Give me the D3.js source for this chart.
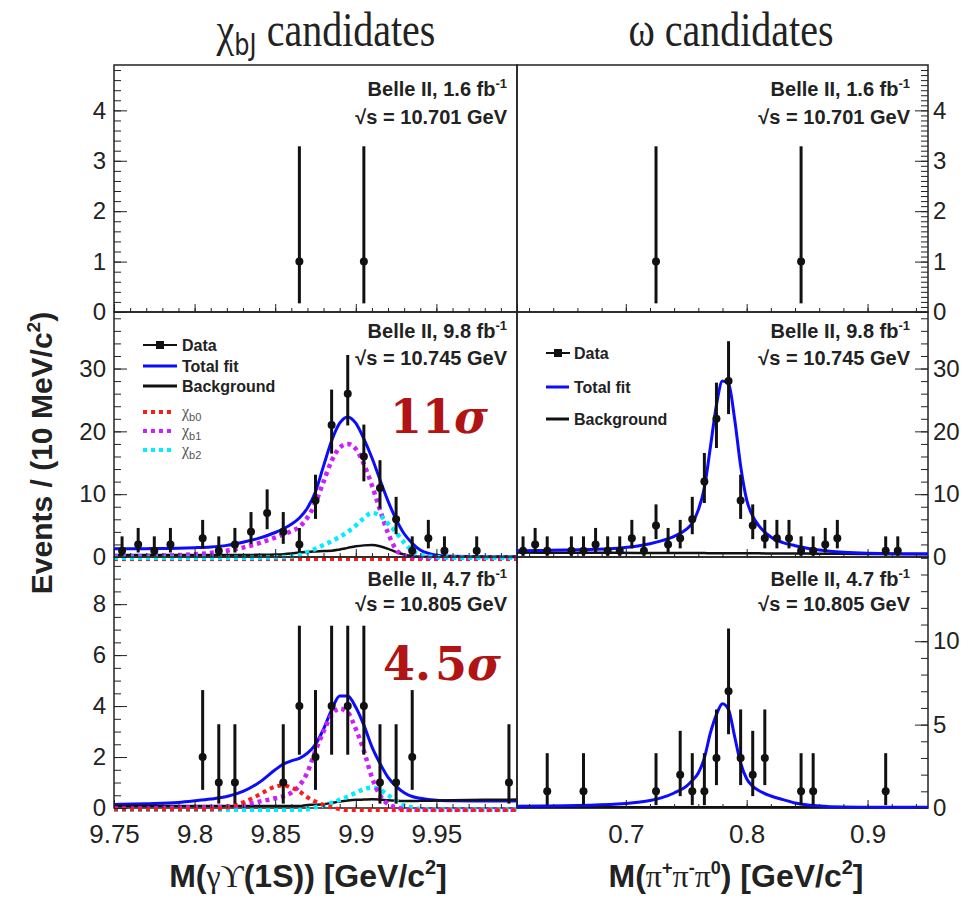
<!DOCTYPE html>
<html>
<head>
<meta charset="utf-8">
<title>chi_bJ and omega candidates</title>
<script src="https://d3js.org/d3.v7.min.js"></script>
<style>
  body { margin: 0; background: #fff; }
  .tick text { font-family: "Liberation Sans", Arial, sans-serif; fill: #222; }
  .note { font-family: "Liberation Sans", Arial, sans-serif; font-weight: bold; fill: #222; }
</style>
</head>
<body>
<div id="chart"></div>
<script>
// ---------------- data ----------------
// chi_bJ candidates: bin centres of M(gamma Upsilon(1S)) [GeV/c^2] and event counts
var chiTopMass = [9.865, 9.905];
var chiTopCounts = [1, 1];
var chiMidMass = [9.755, 9.765, 9.775, 9.785, 9.805, 9.815, 9.825, 9.835, 9.845, 9.855, 9.865,
                  9.875, 9.885, 9.895, 9.905, 9.915, 9.925, 9.935, 9.945, 9.955, 9.975];
var chiMidCounts = [1, 2, 1, 2, 3, 1, 2, 4, 7, 4, 2, 9, 21, 26, 16, 11, 6, 1, 3, 1, 1];
var chiBotMass = [9.805, 9.815, 9.825, 9.855, 9.865, 9.875, 9.885, 9.895, 9.905, 9.915, 9.925, 9.935, 9.995];
var chiBotCounts = [2, 1, 1, 1, 4, 2, 4, 4, 4, 1, 1, 2, 1];

// omega candidates: bin centres of M(pi+ pi- pi0) [GeV/c^2] and event counts
var omegaTopMass = [0.725, 0.845];
var omegaTopCounts = [1, 1];
var omegaMidMass = [0.615, 0.625, 0.635, 0.655, 0.665, 0.675, 0.685, 0.695, 0.705, 0.715, 0.725, 0.735,
                    0.745, 0.755, 0.765, 0.775, 0.785, 0.795, 0.805, 0.815, 0.825, 0.835, 0.845, 0.855,
                    0.865, 0.875, 0.915, 0.925];
var omegaMidCounts = [1, 2, 1, 1, 1, 2, 1, 1, 3, 1, 5, 2, 3, 6, 12, 22, 28, 9, 5, 3, 3, 3, 1, 1, 2, 3, 1, 1];
var omegaBotMass = [0.635, 0.665, 0.725, 0.745, 0.755, 0.765, 0.775, 0.785, 0.795, 0.805, 0.815, 0.845, 0.855, 0.915];
var omegaBotCounts = [1, 1, 1, 2, 1, 1, 3, 7, 3, 2, 3, 1, 1, 1];

var chiFitMass = [9.75, 9.77, 9.79, 9.80, 9.81, 9.82, 9.83, 9.84, 9.85, 9.855, 9.86, 9.865, 9.87, 9.875, 9.88,
                  9.885, 9.89, 9.895, 9.90, 9.905, 9.91, 9.915, 9.92, 9.925, 9.93, 9.935, 9.94, 9.95, 9.96, 9.98, 10.0];
var chiMidTotal = [1.3, 1.33, 1.4, 1.48, 1.6, 1.85, 2.35, 3.0, 3.9, 4.5, 5.2, 6.2, 7.8, 10.4, 14.5,
                   18.5, 21.3, 22.3, 21.3, 18.8, 15.8, 12.3, 8.9, 6.0, 3.7, 2.2, 1.1, 0.3, 0.1, 0.05, 0.05];
var chiMidBkg = [0.3, 0.3, 0.3, 0.3, 0.3, 0.3, 0.32, 0.35, 0.4, 0.45, 0.55, 0.7, 0.8, 0.88, 0.95,
                 1.0, 1.2, 1.45, 1.7, 1.85, 1.9, 1.7, 1.3, 0.8, 0.4, 0.15, 0.05, 0.02, 0.02, 0.02, 0.02];
var chiMidB0 = [-0.4, -0.4, -0.4, -0.4, -0.4, -0.4, -0.4, -0.4, -0.4, -0.4, -0.4, -0.4, -0.4, -0.4, -0.4, -0.4,
                -0.4, -0.4, -0.4, -0.4, -0.4, -0.4, -0.4, -0.4, -0.4, -0.4, -0.4, -0.4, -0.4, -0.4, -0.4];
var chiMidB1 = [0.1, 0.15, 0.3, 0.45, 0.65, 1.0, 1.5, 2.2, 3.1, 3.6, 4.1, 4.8, 6.3, 8.6, 12.0,
                15.3, 17.4, 18.0, 17.2, 14.8, 11.4, 7.5, 3.8, 1.2, 0.2, 0.0, -0.1, -0.1, -0.1, -0.1, -0.1];
var chiMidB2 = [-0.1, -0.1, -0.1, -0.1, -0.1, -0.1, -0.1, -0.1, -0.05, 0, 0.05, 0.3, 0.8, 1.3, 1.9,
                2.5, 3.2, 4.0, 5.0, 6.2, 7.0, 6.6, 5.3, 3.9, 2.3, 1.0, 0.3, 0, -0.1, -0.1, -0.1];
var chiBotTotal = [0.14, 0.17, 0.22, 0.28, 0.35, 0.45, 0.65, 1.0, 1.5, 1.72, 1.85, 1.95, 2.15, 2.5, 3.1,
                   3.85, 4.4, 4.4, 3.95, 3.25, 2.4, 1.75, 1.2, 0.85, 0.6, 0.45, 0.38, 0.3, 0.28, 0.27, 0.27];
var chiBotBkg = [0.08, 0.08, 0.08, 0.08, 0.08, 0.08, 0.08, 0.08, 0.08, 0.08, 0.08, 0.08, 0.12, 0.13, 0.15,
                 0.2, 0.25, 0.29, 0.32, 0.33, 0.34, 0.33, 0.3, 0.28, 0.27, 0.27, 0.28, 0.29, 0.3, 0.32, 0.33];
var chiBotB0 = [-0.05, -0.05, -0.05, -0.05, -0.05, 0.02, 0.22, 0.52, 0.84, 0.89, 0.8, 0.65, 0.42, 0.25, 0.12,
                0.03, -0.05, -0.1, -0.1, -0.1, -0.1, -0.1, -0.1, -0.1, -0.1, -0.1, -0.1, -0.1, -0.1, -0.1, -0.1];
var chiBotB1 = [-0.02, -0.02, 0.01, 0.02, 0.03, 0.05, 0.12, 0.25, 0.38, 0.46, 0.6, 0.88, 1.4, 2.25, 3.0,
                3.65, 3.9, 3.75, 3.1, 2.25, 1.2, 0.5, 0.15, 0.03, -0.05, -0.08, -0.08, -0.08, -0.08, -0.08, -0.08];
var chiBotB2 = [-0.1, -0.1, -0.1, -0.1, -0.1, -0.1, -0.1, -0.1, -0.1, -0.1, -0.1, -0.08, -0.05, 0.03, 0.1,
                0.2, 0.32, 0.45, 0.6, 0.74, 0.8, 0.72, 0.5, 0.28, 0.1, 0.02, -0.04, -0.06, -0.06, -0.06, -0.06];

var omegaFitMass = [0.61, 0.63, 0.65, 0.67, 0.69, 0.71, 0.72, 0.73, 0.74, 0.75, 0.755, 0.76, 0.765, 0.77, 0.775,
                    0.78, 0.785, 0.79, 0.795, 0.80, 0.805, 0.81, 0.82, 0.83, 0.84, 0.86, 0.88, 0.90, 0.95];
var omegaMidTotal = [1.0, 1.05, 1.1, 1.2, 1.35, 1.75, 2.1, 2.6, 3.3, 4.4, 5.4, 7.5, 11.0, 17.5, 24.2,
                     28.0, 27.6, 22.0, 14.5, 9.1, 6.5, 5.0, 3.2, 2.3, 1.8, 1.1, 0.75, 0.6, 0.5];
var omegaMidBkg = [0.7, 0.69, 0.68, 0.67, 0.66, 0.65, 0.64, 0.64, 0.63, 0.63, 0.62, 0.62, 0.62, 0.61, 0.61,
                   0.6, 0.6, 0.6, 0.59, 0.59, 0.58, 0.58, 0.57, 0.56, 0.55, 0.53, 0.51, 0.49, 0.45];
var omegaBotTotal = [0.1, 0.12, 0.14, 0.17, 0.22, 0.35, 0.45, 0.62, 0.9, 1.3, 1.65, 2.1, 3.0, 4.5, 5.6,
                     6.25, 5.9, 4.3, 2.7, 1.75, 1.3, 1.05, 0.72, 0.5, 0.3, 0.12, 0.06, 0.05, 0.04];
var omegaBotBkg = [0.05, 0.05, 0.05, 0.05, 0.05, 0.05, 0.05, 0.05, 0.05, 0.05, 0.05, 0.05, 0.05, 0.05, 0.05,
                   0.05, 0.05, 0.05, 0.05, 0.05, 0.05, 0.05, 0.05, 0.05, 0.05, 0.05, 0.05, 0.05, 0.05];

// axis ticks
var chiMassTicks = [9.75, 9.8, 9.85, 9.9, 9.95, 10.0];
var omegaMassTicks = [0.7, 0.8, 0.9];
var topCountTicks = [0, 1, 2, 3, 4];
var midCountTicks = [0, 10, 20, 30];
var chiBotCountTicks = [0, 2, 4, 6, 8];
var omegaBotCountTicks = [0, 5, 10];

// run labels
var lumis = ["1.6", "9.8", "4.7"];
var energies = ["10.701", "10.745", "10.805"];

// ---------------- layout ----------------
var W = 971, H = 900;
var colL = [114, 517], colR = [517, 928];
var rows = [[65, 312], [312, 557], [557, 808]];

var svg = d3.select("#chart").append("svg")
    .attr("width", W)
    .attr("height", H)
    .style("font-family", "'Liberation Sans', Arial, sans-serif");

var xChi = d3.scaleLinear().domain([9.75, 10.0]).range(colL);
var xOmega = d3.scaleLinear().domain([0.61, 0.95]).range(colR);

var yScales = [
  [d3.scaleLinear().domain([0, 4.9]).range([rows[0][1], rows[0][0]]),
   d3.scaleLinear().domain([0, 4.9]).range([rows[0][1], rows[0][0]])],
  [d3.scaleLinear().domain([0, 39]).range([rows[1][1], rows[1][0]]),
   d3.scaleLinear().domain([0, 39]).range([rows[1][1], rows[1][0]])],
  [d3.scaleLinear().domain([0, 9.85]).range([rows[2][1], rows[2][0]]),
   d3.scaleLinear().domain([0, 15.05]).range([rows[2][1], rows[2][0]])]
];
var yTicks = [[topCountTicks, topCountTicks], [midCountTicks, midCountTicks], [chiBotCountTicks, omegaBotCountTicks]];
var yMinorStep = [[0.2, 0.1], [2, 2], [0.5, 1]];

// poisson (68%) interval, Wilson-Hilferty approximation as ROOT draws it
function poisLow(n) { return n * Math.pow(1 - 1 / (9 * n) - 1 / (3 * Math.sqrt(n)), 3); }
function poisHigh(n) { var m = n + 1; return m * Math.pow(1 - 1 / (9 * m) + 1 / (3 * Math.sqrt(m)), 3); }

var defs = svg.append("defs");

function drawCurve(g, x, y, mass, vals, color, width, dash) {
  var line = d3.line()
    .x(function(d, i) { return x(mass[i]); })
    .y(function(d) { return y(d); })
    .curve(d3.curveMonotoneX);
  g.append("path")
    .attr("d", line(vals))
    .attr("fill", "none")
    .attr("stroke", color)
    .attr("stroke-width", width)
    .attr("stroke-dasharray", dash || null);
}

function drawPoints(g, x, y, mass, counts) {
  var pts = g.append("g").selectAll("g").data(counts).enter().append("g");
  pts.append("line")
    .attr("x1", function(d, i) { return x(mass[i]); })
    .attr("x2", function(d, i) { return x(mass[i]); })
    .attr("y1", function(d) { return y(poisLow(d)); })
    .attr("y2", function(d) { return y(poisHigh(d)); })
    .attr("stroke", "#111")
    .attr("stroke-width", 3);
  pts.append("circle")
    .attr("cx", function(d, i) { return x(mass[i]); })
    .attr("cy", function(d) { return y(d); })
    .attr("r", 4)
    .attr("fill", "#111");
}

function makePanel(row, col) {
  var x = col === 0 ? xChi : xOmega;
  var y = yScales[row][col];
  var xr = col === 0 ? colL : colR;
  var id = "clip" + row + col;
  defs.append("clipPath").attr("id", id).append("rect")
    .attr("x", xr[0]).attr("y", rows[row][0] - 2)
    .attr("width", xr[1] - xr[0]).attr("height", rows[row][1] - rows[row][0] + 6);
  var g = svg.append("g");
  // frame first, marks go on top of it
  g.append("rect")
    .attr("x", xr[0]).attr("y", rows[row][0])
    .attr("width", xr[1] - xr[0]).attr("height", rows[row][1] - rows[row][0])
    .attr("fill", "none").attr("stroke", "#222").attr("stroke-width", 1.5);
  var plot = g.append("g").attr("clip-path", "url(#" + id + ")");
  return {g: g, plot: plot, x: x, y: y, xr: xr};
}

var colors = {total: "#0b0bff", bkg: "#111", b0: "#ff1a1a", b1: "#cc1eff", b2: "#00eeff"};
var dots = "4 4";

// ---------------- panels ----------------
var panels = [];
for (var r = 0; r < 3; r++) {
  panels.push([makePanel(r, 0), makePanel(r, 1)]);
}

// chi_bJ fits
var p = panels[1][0];
drawCurve(p.plot, p.x, p.y, chiFitMass, chiMidTotal, colors.total, 3);
drawCurve(p.plot, p.x, p.y, chiFitMass, chiMidBkg, colors.bkg, 2.5);
drawCurve(p.plot, p.x, p.y, chiFitMass, chiMidB0, colors.b0, 4, dots);
drawCurve(p.plot, p.x, p.y, chiFitMass, chiMidB1, colors.b1, 4.5, dots);
drawCurve(p.plot, p.x, p.y, chiFitMass, chiMidB2, colors.b2, 4.5, dots);
p = panels[2][0];
drawCurve(p.plot, p.x, p.y, chiFitMass, chiBotTotal, colors.total, 3);
drawCurve(p.plot, p.x, p.y, chiFitMass, chiBotBkg, colors.bkg, 2.5);
drawCurve(p.plot, p.x, p.y, chiFitMass, chiBotB2, colors.b2, 4.5, dots);
drawCurve(p.plot, p.x, p.y, chiFitMass, chiBotB1, colors.b1, 4.5, dots);
drawCurve(p.plot, p.x, p.y, chiFitMass, chiBotB0, colors.b0, 4, dots);

// omega fits
p = panels[1][1];
drawCurve(p.plot, p.x, p.y, omegaFitMass, omegaMidBkg, colors.bkg, 2.5);
drawCurve(p.plot, p.x, p.y, omegaFitMass, omegaMidTotal, colors.total, 3);
p = panels[2][1];
drawCurve(p.plot, p.x, p.y, omegaFitMass, omegaBotBkg, colors.bkg, 2.5);
drawCurve(p.plot, p.x, p.y, omegaFitMass, omegaBotTotal, colors.total, 3);

// data points
var massSets = [[chiTopMass, omegaTopMass], [chiMidMass, omegaMidMass], [chiBotMass, omegaBotMass]];
var countSets = [[chiTopCounts, omegaTopCounts], [chiMidCounts, omegaMidCounts], [chiBotCounts, omegaBotCounts]];
for (var r = 0; r < 3; r++) {
  for (var c = 0; c < 2; c++) {
    p = panels[r][c];
    drawPoints(p.plot, p.x, p.y, massSets[r][c], countSets[r][c]);
  }
}

// ---------------- axes ----------------
function clean(sel) { sel.select(".domain").remove(); }

for (var r = 0; r < 3; r++) {
  for (var c = 0; c < 2; c++) {
    p = panels[r][c];
    var y = p.y;
    var ymax = y.domain()[1];
    var step = yMinorStep[r][c];
    var minors = d3.range(0, ymax, step);
    var yx = c === 0 ? p.xr[0] : p.xr[1];
    var axMinor = c === 0 ? d3.axisLeft(y) : d3.axisRight(y);
    var axMajor = c === 0 ? d3.axisLeft(y) : d3.axisRight(y);
    p.g.append("g").attr("transform", "translate(" + yx + ",0)")
      .call(axMinor.tickValues(minors).tickSize(-7).tickFormat(""))
      .call(clean)
      .selectAll("line").attr("stroke", "#222");
    var gm = p.g.append("g").attr("transform", "translate(" + yx + ",0)")
      .call(axMajor.tickValues(yTicks[r][c]).tickSize(-13).tickPadding(c === 0 ? 8 : 5).tickFormat(d3.format("d")))
      .call(clean);
    gm.selectAll("line").attr("stroke", "#222");
    gm.selectAll("text").style("font-size", "24px");

    // bottom mass axis of each panel, ticks pointing in
    var x = p.x;
    var xMinors = c === 0 ? d3.range(9.76, 10.0, 0.01) : d3.range(0.62, 0.95, 0.02);
    var xMajors = c === 0 ? chiMassTicks : omegaMassTicks;
    var yb = rows[r][1];
    p.g.append("g").attr("transform", "translate(0," + yb + ")")
      .call(d3.axisBottom(x).tickValues(xMinors).tickSize(-4).tickFormat(""))
      .call(clean)
      .selectAll("line").attr("stroke", "#222");
    var gx = p.g.append("g").attr("transform", "translate(0," + yb + ")")
      .call(d3.axisBottom(x).tickValues(xMajors).tickSize(-8).tickPadding(17)
        .tickFormat(function(d) { return d >= 10 ? "" : d3.format("")(d); }))
      .call(clean);
    gx.selectAll("line").attr("stroke", "#222");
    gx.selectAll("text").style("font-size", "26px");
    if (r < 2) gx.selectAll("text").remove();

    // Belle II run labels
    var tx = c === 0 ? 507 : 910;
    var base = [[96, 124], [338, 365], [586, 611]][r];
    var t1 = p.g.append("text").attr("class", "note").attr("x", tx).attr("y", base[0])
      .attr("text-anchor", "end").style("font-size", "20px");
    t1.append("tspan").text("Belle II, " + lumis[r] + " fb");
    t1.append("tspan").attr("dy", -8).style("font-size", "13px").text("-1");
    p.g.append("text").attr("class", "note").attr("x", tx).attr("y", base[1])
      .attr("text-anchor", "end").style("font-size", "20px")
      .text("\u221As = " + energies[r] + " GeV");
  }
}

// ---------------- legends ----------------
function legendData(g, x0, x1, y) {
  g.append("line").attr("x1", x0).attr("x2", x1).attr("y1", y).attr("y2", y)
    .attr("stroke", "#111").attr("stroke-width", 2);
  g.append("rect").attr("x", (x0 + x1) / 2 - 4).attr("y", y - 4).attr("width", 8).attr("height", 8).attr("fill", "#111");
}
function legendLine(g, x0, x1, y, color, width, dash) {
  g.append("line").attr("x1", x0).attr("x2", x1).attr("y1", y).attr("y2", y)
    .attr("stroke", color).attr("stroke-width", width).attr("stroke-dasharray", dash || null);
}
function legendText(g, x, y, label) {
  g.append("text").attr("class", "note").attr("x", x).attr("y", y + 6).style("font-size", "16px").text(label);
}
function legendChi(g, x, y, sub) {
  var t = g.append("text").attr("x", x).attr("y", y + 5)
    .style("font-family", "'Liberation Serif', 'Times New Roman', serif").style("font-size", "16px").attr("fill", "#555");
  t.append("tspan").text("\u03C7");
  t.append("tspan").attr("dy", 4).style("font-family", "'Liberation Sans', Arial, sans-serif").style("font-size", "11px").text(sub);
}

var lg = svg.append("g");
legendData(lg, 143, 177, 345); legendText(lg, 182, 345, "Data");
legendLine(lg, 143, 177, 366, colors.total, 3); legendText(lg, 182, 366, "Total fit");
legendLine(lg, 143, 177, 386, colors.bkg, 3); legendText(lg, 182, 386, "Background");
legendLine(lg, 143, 175, 412, colors.b0, 4, dots); legendChi(lg, 182, 412, "b0");
legendLine(lg, 143, 175, 431, colors.b1, 4, dots); legendChi(lg, 182, 431, "b1");
legendLine(lg, 143, 175, 450, colors.b2, 4, dots); legendChi(lg, 182, 450, "b2");

legendData(lg, 546, 570, 353); legendText(lg, 574, 353, "Data");
legendLine(lg, 546, 569, 387, colors.total, 3); legendText(lg, 574, 387, "Total fit");
legendLine(lg, 546, 569, 419, colors.bkg, 3); legendText(lg, 574, 419, "Background");

// ---------------- significances ----------------
function sigma(x, y, whole, rest) {
  var t = svg.append("text").attr("x", x).attr("y", y)
    .style("font-family", "'DejaVu Serif', serif").style("font-weight", "bold")
    .style("font-size", "46px").attr("fill", "#b01414");
  t.append("tspan").text(whole);
  if (rest) t.append("tspan").attr("dx", 4).text(rest);
  t.append("tspan").style("font-style", "italic").text("\u03C3");
}
sigma(390, 433, "11", "");
sigma(383, 680, "4.", "5");

// ---------------- titles ----------------
var serif = "'Liberation Serif', 'Times New Roman', serif";
var t = svg.append("text").attr("transform", "translate(326,46) scale(1,1.22)").attr("text-anchor", "middle")
  .style("font-family", serif).style("font-size", "40px").attr("fill", "#222");
t.append("tspan").text("\u03C7");
t.append("tspan").attr("dy", 7).style("font-family", "'DejaVu Sans', sans-serif").style("font-size", "24px").text("bJ");
t.append("tspan").attr("dy", -7).text(" candidates");

svg.append("text").attr("transform", "translate(731,46) scale(1,1.22)").attr("text-anchor", "middle")
  .style("font-family", serif).style("font-size", "40px").attr("fill", "#222")
  .text("\u03C9 candidates");

// x axis titles
var xt = svg.append("text").attr("class", "note").attr("x", 308).attr("y", 887)
  .attr("text-anchor", "middle").style("font-size", "32px");
xt.append("tspan").text("M(");
xt.append("tspan").style("font-family", serif).style("font-weight", "normal").text("\u03B3\u03D2");
xt.append("tspan").text("(1S)) [GeV/c");
xt.append("tspan").attr("dy", -13).style("font-size", "20px").text("2");
xt.append("tspan").attr("dy", 13).text("]");

var xt2 = svg.append("text").attr("class", "note").attr("x", 736).attr("y", 887)
  .attr("text-anchor", "middle").style("font-size", "32px");
xt2.append("tspan").text("M(");
xt2.append("tspan").style("font-family", serif).style("font-weight", "normal").text("\u03C0");
xt2.append("tspan").attr("dy", -13).style("font-size", "18px").text("+");
xt2.append("tspan").attr("dy", 13).style("font-family", serif).style("font-weight", "normal").text("\u03C0");
xt2.append("tspan").attr("dy", -13).style("font-size", "18px").text("-");
xt2.append("tspan").attr("dy", 13).style("font-family", serif).style("font-weight", "normal").text("\u03C0");
xt2.append("tspan").attr("dy", -13).style("font-size", "18px").text("0");
xt2.append("tspan").attr("dy", 13).text(") [GeV/c");
xt2.append("tspan").attr("dy", -13).style("font-size", "20px").text("2");
xt2.append("tspan").attr("dy", 13).text("]");

// y axis title
var yt = svg.append("text").attr("class", "note")
  .attr("transform", "translate(52,453) rotate(-90)")
  .attr("text-anchor", "middle").style("font-size", "30px");
yt.append("tspan").text("Events / (10 MeV/c");
yt.append("tspan").attr("dy", -12).style("font-size", "19px").text("2");
yt.append("tspan").attr("dy", 12).text(")");
</script>
</body>
</html>
